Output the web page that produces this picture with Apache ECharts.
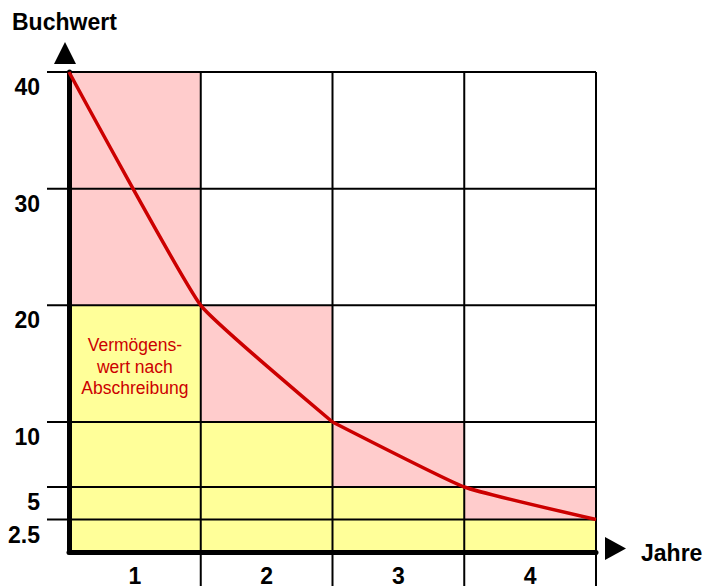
<!DOCTYPE html>
<html><head><meta charset="utf-8">
<script src="https://cdn.jsdelivr.net/npm/echarts@6/dist/echarts.min.js"></script>
<style>html,body{margin:0;padding:0;background:#fff}#c{width:704px;height:587px}</style>
</head><body><div id="c"></div>
<script>
// ---- data ----
const years = ['1', '2', '3', '4'];
const yearEdges = [0, 1, 2, 3, 4];
const bookValues = [40, 20, 10, 5, 2.5];       // value at the start of each year (x = 0..4)
const yTicksUpper = [10, 20, 30, 40];
const yTicksLower = [2.5, 5];
const annotationText = 'Vermögens-\nwert nach\nAbschreibung';
const annotationAt = [0.5, 15];
const yAxisTitle = 'Buchwert';
const xAxisTitle = 'Jahre';

// ---- styles ----
const PINK = '#ffcccc', YELLOW = '#ffff99', RED = '#cc0000', BLACK = '#000';
const FONT = 'Liberation Sans, Arial, sans-serif';
const ranges = [[10, 40], [0, 10]];   // upper / lower part of the value axis

// rectangles: per year, remaining value (yellow) and depreciation (pink)
const rects = [];
for (let i = 0; i < years.length; i++) {
  rects.push([yearEdges[i], yearEdges[i + 1], 0, bookValues[i + 1], 0]);
  rects.push([yearEdges[i], yearEdges[i + 1], bookValues[i + 1], bookValues[i], 1]);
}
const linePts = bookValues.map((v, i) => [yearEdges[i], v]);

function rectRender(range) {
  return function (params, api) {
    const x0 = api.value(0), x1 = api.value(1);
    const y0 = Math.max(api.value(2), range[0]);
    const y1 = Math.min(api.value(3), range[1]);
    if (y1 <= y0) return null;
    const p0 = api.coord([x0, y0]), p1 = api.coord([x1, y1]);
    return { type: 'rect',
      shape: { x: p0[0], y: p1[1], width: p1[0] - p0[0], height: p0[1] - p1[1] },
      style: { fill: api.value(4) === 0 ? YELLOW : PINK } };
  };
}
function gridRender(range, ticks, extendBelow) {
  return function (params, api) {
    const children = [];
    const xmin = yearEdges[0], xmax = yearEdges[yearEdges.length - 1];
    ticks.forEach(v => {
      const a = api.coord([xmin, v]), b = api.coord([xmax, v]);
      children.push({ type: 'line', shape: { x1: a[0] - 22, y1: a[1], x2: b[0], y2: b[1] },
        style: { stroke: BLACK, lineWidth: 2 } });
    });
    yearEdges.slice(1).forEach(x => {
      const a = api.coord([x, range[1]]), b = api.coord([x, range[0]]);
      children.push({ type: 'line', shape: { x1: a[0], y1: a[1], x2: b[0], y2: b[1] + extendBelow },
        style: { stroke: BLACK, lineWidth: 2 } });
    });
    return { type: 'group', children };
  };
}

const chart = echarts.init(document.getElementById('c'), null, { renderer: 'svg' });
const labelStyle = { color: BLACK, fontSize: 23, fontWeight: 'bold', fontFamily: FONT };
// y labels sit just below their grid line: an empty first line shifts the text down
const yLabel = list => Object.assign({ margin: 29, lineHeight: 30, verticalAlign: 'middle',
  formatter: v => list.includes(v) ? '\n' + v : '' }, labelStyle);

chart.setOption({
  animation: false,
  backgroundColor: '#fff',
  grid: [
    { left: 69, top: 72, width: 527, height: 350 },
    { left: 69, top: 422, width: 527, height: 131 }
  ],
  xAxis: [
    { gridIndex: 0, type: 'value', min: 0, max: 4, interval: 1, show: false },
    { gridIndex: 1, type: 'value', min: 0, max: 4, interval: 1, show: false, position: 'bottom' },
    { gridIndex: 1, type: 'category', data: years, position: 'bottom', boundaryGap: true, z: 6,
      axisLine: { show: true, lineStyle: { color: BLACK, width: 5 } },
      axisTick: { show: false }, splitLine: { show: false },
      axisLabel: Object.assign({ margin: 12 }, labelStyle) }
  ],
  yAxis: [
    { gridIndex: 0, type: 'value', min: 10, max: 40, interval: 10, z: 6,
      axisLine: { show: true, lineStyle: { color: BLACK, width: 5 } },
      axisTick: { show: false }, splitLine: { show: false },
      axisLabel: yLabel(yTicksUpper) },
    { gridIndex: 1, type: 'value', min: 0, max: 10, interval: 2.5, z: 6,
      axisLine: { show: true, lineStyle: { color: BLACK, width: 5 } },
      axisTick: { show: false }, splitLine: { show: false },
      axisLabel: yLabel(yTicksLower) }
  ],
  series: [
    { type: 'custom', xAxisIndex: 0, yAxisIndex: 0, z: 1, silent: true,
      renderItem: rectRender(ranges[0]), data: rects },
    { type: 'custom', xAxisIndex: 1, yAxisIndex: 1, z: 1, silent: true,
      renderItem: rectRender(ranges[1]), data: rects },
    { type: 'custom', xAxisIndex: 0, yAxisIndex: 0, z: 2, silent: true,
      renderItem: gridRender(ranges[0], yTicksUpper, 0), data: [[0]] },
    { type: 'custom', xAxisIndex: 1, yAxisIndex: 1, z: 2, silent: true,
      renderItem: gridRender(ranges[1], yTicksLower, 34), data: [[0]] },
    { type: 'custom', xAxisIndex: 0, yAxisIndex: 0, z: 3, silent: true,
      renderItem: (p, api) => {
        const c = api.coord([api.value(0), api.value(1)]);
        return { type: 'text', x: c[0], y: c[1] + 3,
          style: { text: annotationText, fill: RED, font: '17.5px ' + FONT,
            align: 'center', verticalAlign: 'middle', lineHeight: 21.5 } };
      }, data: [annotationAt] },
    { type: 'line', xAxisIndex: 0, yAxisIndex: 0, z: 8, smooth: 0.12, symbol: 'none',
      lineStyle: { color: RED, width: 3.5 },
      data: linePts.filter(p => p[1] >= ranges[0][0]) },
    { type: 'line', xAxisIndex: 1, yAxisIndex: 1, z: 8, smooth: 0.12, symbol: 'none',
      lineStyle: { color: RED, width: 3.5 },
      data: linePts.filter(p => p[1] <= ranges[1][1]) }
  ],
  graphic: [
    { type: 'text', left: 12, top: 10, style: { text: yAxisTitle, fill: BLACK, font: 'bold 23px ' + FONT } },
    { type: 'polygon', shape: { points: [[54, 64], [76, 64], [65, 42]] }, style: { fill: BLACK } },
    { type: 'polygon', shape: { points: [[605, 537], [605, 560], [626, 548.5]] }, style: { fill: BLACK } },
    { type: 'text', left: 641, top: 541, style: { text: xAxisTitle, fill: BLACK, font: 'bold 23px ' + FONT } }
  ]
});
</script>
</body></html>
